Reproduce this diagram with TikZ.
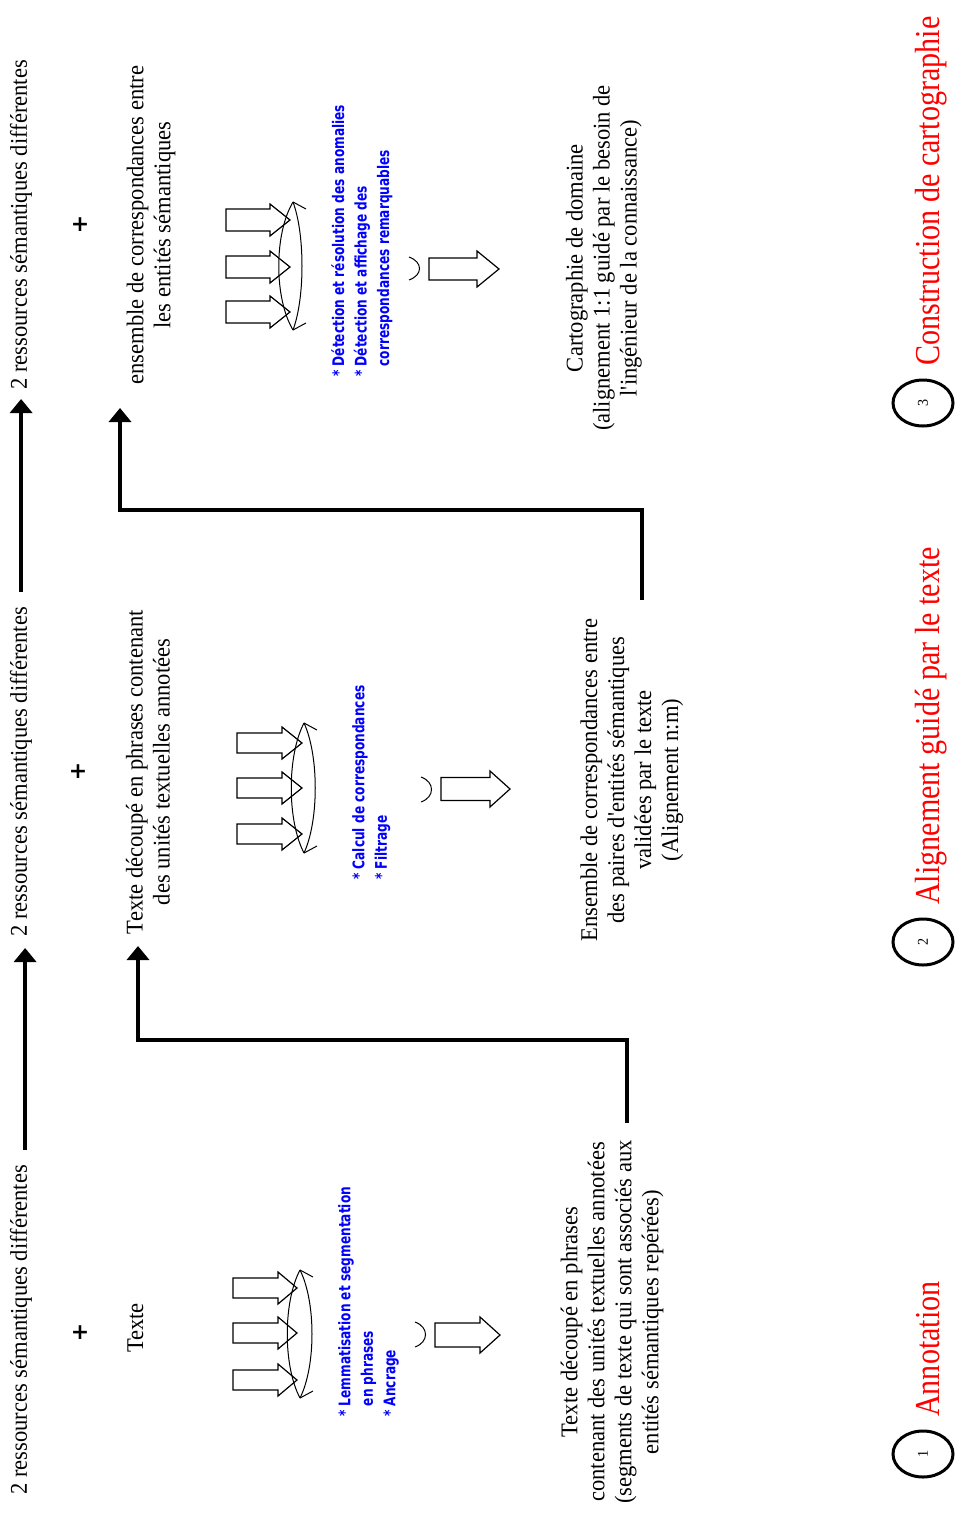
\documentclass[tikz,border=0pt]{standalone}
\usepackage{fontspec}
\setmainfont{Liberation Serif}[FakeStretch=0.94, Ligatures=TeXOff]
\newfontfamily\redfont{Liberation Serif}[FakeStretch=0.86]
\newfontfamily\bluefont{DejaVu Sans}[FakeStretch=0.76]
\newfontfamily\plusfont{DejaVu Sans}
\usetikzlibrary{arrows.meta,shapes.geometric}
\newcommand{\blkarrow}[6]{%
  \draw[blk] ({#1},{#4-#5}) -- ({#2},{#4-#5}) -- ({#2},{#4-#6}) -- ({#3},{#4})
    -- ({#2},{#4+#6}) -- ({#2},{#4+#5}) -- ({#1},{#4+#5}) -- cycle;}
\newcommand{\lensshape}[5]{% x of points, y top, y bottom, left ctrl x, right ctrl x
  \draw[thin line] (#1,#2) .. controls (#4,{#2+(#3-#2)/4}) and (#4,{#3-(#3-#2)/4}) .. (#1,#3);
  \draw[thin line] (#1,#2) .. controls (#5,{#2+(#3-#2)/4}) and (#5,{#3-(#3-#2)/4}) .. (#1,#3);
  \draw[thin line] (#1,#2) -- ({#1+13},{#2+7});
  \draw[thin line] (#1,#3) -- ({#1+13},{#3-7});}
\newcommand{\paren}[3]{% x left, y top, y bottom
  \draw[thin line] (#1,#2) .. controls ({#1+14},{#2+5}) and ({#1+14},{#3-5}) .. (#1,#3);}
\tikzset{
  x=1pt, y=-1pt,
  maintxt/.style={rotate=90, inner sep=0pt, align=center,
    font=\fontsize{24}{27}\selectfont},
  bluetxt/.style={rotate=90, inner sep=0pt, align=left, anchor=north west,
    text=blue, font=\bluefont\bfseries\fontsize{16}{22.5}\selectfont},
  plus/.style={inner sep=0pt, font=\plusfont\bfseries\fontsize{22}{22}\selectfont},
  redtitle/.style={rotate=90, inner sep=0pt, anchor=base west, text=red,
    font=\redfont\fontsize{35}{35}\selectfont},
  numcirc/.style={rotate=90, draw, ellipse, line width=3pt, inner sep=0pt,
    minimum width=46pt, minimum height=60pt, font=\fontsize{15}{15}\selectfont},
  blk/.style={draw=black, fill=white, line width=1.2pt, line join=miter},
  thin line/.style={draw=black, line width=1pt},
  bigarrow/.style={line width=4pt, -{Triangle[width=22pt,length=14pt]}},
}
\begin{document}
\begin{tikzpicture}
\fill[white] (0,0) rectangle (955,1513);
\useasboundingbox (0,0) rectangle (955,1513);

% top row: resources
\node[maintxt, anchor=base west] (r1) at (27,1495) {2 ressources sémantiques différentes};
\node[maintxt, anchor=base west] (r2) at (27,937) {2 ressources sémantiques différentes};
\node[maintxt, anchor=base west] (r3) at (27,390) {2 ressources sémantiques différentes};
\draw[bigarrow] ([xshift=4pt,yshift=15pt]r1.east) -- ([xshift=4pt,yshift=-11pt]r2.west);
\draw[bigarrow] ([yshift=15pt]r2.east) -- ([yshift=-9pt]r3.west);

% plus signs
\node[plus] (p1) at (80,1333) {+};
\node[plus] (p2) at (78,772) {+};
\node[plus] (p3) at (80,225) {+};

% inputs
\node[maintxt, anchor=base] (t1) at (143,1328) {Texte};
\node[maintxt] (t2) at (148,772) {Texte découpé en phrases contenant\\des unités textuelles annotées};
\node[maintxt] (t3) at (151,225) {ensemble de correspondances entre\\les entités sémantiques};

% column 1 process
\blkarrow{233}{278}{297}{1288}{10}{16}
\blkarrow{233}{278}{297}{1333}{10}{16}
\blkarrow{233}{278}{297}{1380}{10}{16}
\lensshape{300}{1270}{1398}{283}{316}
\node[bluetxt] (b1) at (338,1417) {* Lemmatisation et segmentation\\\phantom{* }en phrases\\* Ancrage};
\paren{415}{1322}{1347}
\blkarrow{435}{480}{500}{1335}{12}{18}

% column 2 process
\blkarrow{237}{282}{302}{743}{10}{16}
\blkarrow{237}{282}{302}{788}{10}{16}
\blkarrow{237}{282}{302}{834}{10}{16}
\lensshape{304}{723}{853}{287}{319}
\node[bluetxt] (b2) at (352,880) {* Calcul de correspondances\\* Filtrage};
\paren{421}{777}{802}
\blkarrow{441}{490}{510}{789}{11.5}{18}

% column 3 process
\blkarrow{226}{270}{290}{220}{11}{16}
\blkarrow{226}{270}{290}{267}{11}{16}
\blkarrow{226}{270}{290}{312}{11}{16}
\lensshape{293}{202}{330}{274}{305}
\node[bluetxt] (b3) at (331,377) {* Détection et résolution des anomalies\\* Détection et affichage des\\\phantom{* }correspondances remarquables};
\paren{409}{257}{280}
\blkarrow{429}{477}{499}{269}{11}{18}

% outputs
\node[maintxt] (o1) at (612,1322) {Texte découpé en phrases\\contenant des unités textuelles annotées\\(segments de texte qui sont associés aux\\entités sémantiques repérées)};
\node[maintxt] (o2) at (632,780) {Ensemble de correspondances entre\\des paires d'entités sémantiques\\validées par le texte\\(Alignement n:m)};
\node[maintxt] (o3) at (604,258) {Cartographie de domaine\\(alignement 1:1 guidé par le besoin de\\l'ingénieur de la connaissance)};

% feedback connectors
\coordinate (k1) at (627,1123);
\coordinate (k1e) at (138,946);
\coordinate (k2) at (642,600);
\coordinate (k2e) at (120,408);
\draw[bigarrow, line join=miter] (k1) -- ++(0,-83) -| (k1e);
\draw[bigarrow, line join=miter] (k2) -- ++(0,-90) -| (k2e);

% stage labels
\node[numcirc] (n1) at (923,1454) {1};
\node[numcirc] (n2) at (923,942) {2};
\node[numcirc] (n3) at (923,403) {3};
\node[redtitle] (s1) at (939,1417) {Annotation};
\node[redtitle] (s2) at (939,905) {Alignement guidé par le texte};
\node[redtitle] (s3) at (939,366) {Construction de cartographie};
\end{tikzpicture}
\end{document}
